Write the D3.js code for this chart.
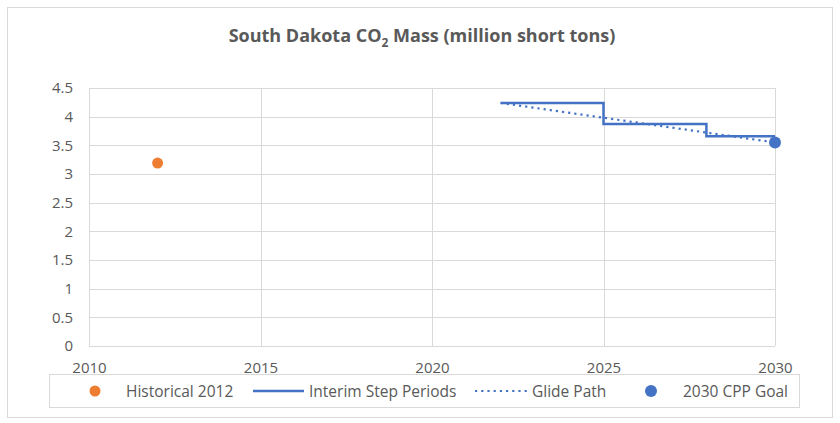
<!DOCTYPE html>
<html><head><meta charset="utf-8">
<script src="https://cdn.jsdelivr.net/npm/d3@7"></script>
<style>body{margin:0;background:#fff;} text{font-family:"Open Sans","Noto Sans",sans-serif;}</style>
</head><body>
<svg id="c" width="840" height="423"></svg>
<script>
const historicalYears = [2012];
const historicalValues = [3.19];
const stepYears = [2022, 2025, 2028, 2030];
const stepValues = [4.24, 3.87, 3.66, 3.66];
const glideYears = [2022, 2030];
const glideValues = [4.24, 3.55];
const goalYears = [2030];
const goalValues = [3.55];
const xTicks = [2010, 2015, 2020, 2025, 2030];
const yTicks = [0, 0.5, 1, 1.5, 2, 2.5, 3, 3.5, 4, 4.5];
const legendLabels = ["Historical 2012", "Interim Step Periods", "Glide Path", "2030 CPP Goal"];

const orange = "#ED7D31", blue = "#4472C4", grid = "#d9d9d9", txt = "#595959";
const svg = d3.select("#c");
svg.append("rect").attr("x", 7.5).attr("y", 7.5).attr("width", 825).attr("height", 410)
  .attr("fill", "#fff").attr("stroke", grid);

const x = d3.scaleLinear().domain([2010, 2030]).range([89, 775]);
const y = d3.scaleLinear().domain([0, 4.5]).range([346, 88]);

// title
const t = svg.append("text").attr("x", 422).attr("y", 42).attr("text-anchor", "middle")
  .attr("font-size", 18).attr("font-weight", "bold").attr("fill", txt);
t.append("tspan").text("South Dakota CO");
t.append("tspan").text("2").attr("font-size", 12).attr("dy", 5);
t.append("tspan").text(" Mass (million short tons)").attr("dy", -5);

// grid
svg.append("g").selectAll("line").data(yTicks).join("line")
  .attr("x1", x(2010)).attr("x2", x(2030)).attr("y1", d => Math.round(y(d)) + 0.5).attr("y2", d => Math.round(y(d)) + 0.5)
  .attr("stroke", grid);
svg.append("g").selectAll("line").data(xTicks).join("line")
  .attr("x1", d => Math.round(x(d)) + 0.5).attr("x2", d => Math.round(x(d)) + 0.5).attr("y1", y(0)).attr("y2", y(4.5))
  .attr("stroke", grid);

// axes labels
const yAxis = d3.axisLeft(y).tickValues(yTicks).tickSize(0).tickPadding(16).tickFormat(d3.format("~g"));
const yg = svg.append("g").attr("transform", `translate(${x(2010)},0)`).call(yAxis);
yg.select(".domain").remove();
yg.selectAll("text").attr("font-size", 15).attr("fill", txt).attr("font-family", '"Open Sans",sans-serif');

const xAxis = d3.axisBottom(x).tickValues(xTicks).tickSize(0).tickPadding(16).tickFormat(d3.format("d"));
const xg = svg.append("g").attr("transform", `translate(0,${y(0)})`).call(xAxis);
xg.select(".domain").remove();
xg.selectAll("text").attr("font-size", 15).attr("fill", txt).attr("font-family", '"Open Sans",sans-serif');

// glide path
const glide = glideYears.map((d, i) => [d, glideValues[i]]);
svg.append("path").datum(glide)
  .attr("d", d3.line().x(d => x(d[0])).y(d => y(d[1])))
  .attr("fill", "none").attr("stroke", blue).attr("stroke-width", 2.2).attr("stroke-dasharray", "2.2,4");

// steps
const steps = stepYears.map((d, i) => [d, stepValues[i]]);
svg.append("path").datum(steps)
  .attr("d", d3.line().curve(d3.curveStepAfter).x(d => x(d[0])).y(d => y(d[1])))
  .attr("fill", "none").attr("stroke", blue).attr("stroke-width", 2.5);

// points
svg.append("g").selectAll("circle").data(historicalYears).join("circle")
  .attr("cx", d => x(d)).attr("cy", (d, i) => y(historicalValues[i])).attr("r", 5.5).attr("fill", orange);
svg.append("g").selectAll("circle").data(goalYears).join("circle")
  .attr("cx", d => x(d)).attr("cy", (d, i) => y(goalValues[i])).attr("r", 6).attr("fill", blue);

// legend
svg.append("rect").attr("x", 49.5).attr("y", 374.5).attr("width", 750).attr("height", 33)
  .attr("fill", "#fff").attr("stroke", grid);
const ly = 391;
svg.append("circle").attr("cx", 95).attr("cy", ly).attr("r", 5.5).attr("fill", orange);
svg.append("line").attr("x1", 253).attr("x2", 304).attr("y1", ly).attr("y2", ly).attr("stroke", blue).attr("stroke-width", 2.5);
svg.append("line").attr("x1", 475).attr("x2", 528).attr("y1", ly).attr("y2", ly).attr("stroke", blue).attr("stroke-width", 2.2).attr("stroke-dasharray", "2.2,4");
svg.append("circle").attr("cx", 651).attr("cy", ly).attr("r", 6).attr("fill", blue);
const lx = [126, 309, 532, 683];
svg.append("g").selectAll("text").data(legendLabels).join("text")
  .attr("x", (d, i) => lx[i]).attr("y", ly + 5.5).attr("font-size", 15.5).attr("fill", txt).text(d => d);
</script>
</body></html>
